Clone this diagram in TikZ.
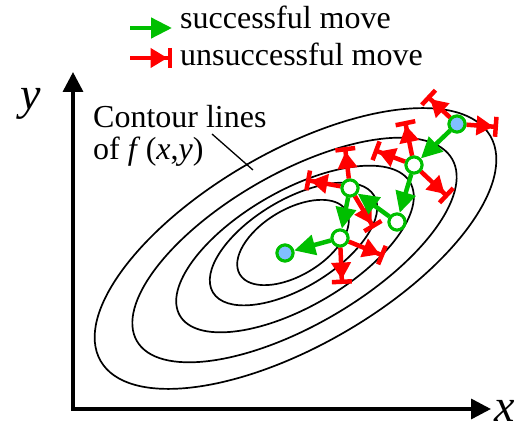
\documentclass[tikz,border=0pt]{standalone}
\usepackage{fontspec}
\setmainfont{Liberation Serif}
\usepackage{xcolor}
\definecolor{moveGood} {HTML}{00BF00}
\definecolor{moveBad}  {HTML}{FF0000}
\definecolor{pointBack}{HTML}{80BFFF}
\usetikzlibrary{arrows.meta}
\tikzset{
    vstep/.style={circle, draw=moveGood, line width=3pt, minimum size=16pt,
                  inner sep=0pt, fill=white},
    vend/.style={vstep, fill=pointBack},
    goodmove/.style={-{Triangle[length=21pt,width=20pt]}, line width=4.5pt, moveGood},
    badmove/.style={-{Triangle[length=17pt,width=19pt,sep=0pt]Bar[width=20pt,line width=4.5pt]},
                    line width=4.5pt, moveBad},
    axisline/.style={{Triangle[length=20pt,width=20pt]}-{Triangle[length=20pt,width=20pt]},
                     line width=3.5pt},
    contour/.style={line width=1.7pt},
    txt/.style={font=\fontsize{32}{32}\selectfont, inner sep=0pt},
    axistxt/.style={font=\fontsize{46}{46}\selectfont\itshape, inner sep=0pt},
}

\begin{document}
\begin{tikzpicture}[x=1pt, y=-1pt]
    \useasboundingbox (0,0) rectangle (520,430);
    % axes
    \coordinate (o) at (73,409);
    \coordinate (ytip) at (73,72);
    \coordinate (xtip) at (491,409);
    \draw[axisline] (ytip) -- (o) -- (xtip);
    \node[axistxt, anchor=base west] (ylab) at (20,110) {y};
    \node[axistxt, anchor=base west] (xlab) at (494,422) {x};
    % contour lines
    \draw[contour, rotate around={30:(295.5,248.5)}] (295.5,248.5) ellipse [x radius=225pt, y radius=97pt];
    \draw[contour, rotate around={30:(294.5,250)}] (294.5,250) ellipse [x radius=182pt, y radius=76pt];
    \draw[contour, rotate around={30:(295,249)}] (295,249) ellipse [x radius=133pt, y radius=58pt];
    \draw[contour, rotate around={31:(293.5,244)}] (293.5,244) ellipse [x radius=94pt, y radius=44pt];
    \draw[contour, rotate around={31:(293,242.5)}] (293,242.5) ellipse [x radius=62pt, y radius=33pt];
    \node[txt, anchor=base west] (cl1) at (93,128) {Contour lines};
    \node[txt, anchor=base west] (cl2) at (93,160) {of \textit{f}\,(\textit{x},\textit{y})};
    \coordinate (lead) at (212,134);
    \coordinate (touch) at (253,170);
    \draw[line width=1.3pt] (lead) -- (touch);
    % legend
    \coordinate (ga) at (130,28);
    \coordinate (gb) at (172,28);
    \coordinate (ra) at (130,58);
    \coordinate (rb) at (172,58);
    \draw[goodmove] (ga) -- (gb);
    \draw[badmove] (ra) -- (rb);
    \node[txt, anchor=base west] (lgood) at (180,29) {successful move};
    \node[txt, anchor=base west] (lbad) at (180,66) {unsuccessful move};
    % search points
    \node[vend]  (s0) at (457,124) {};
    \node[vstep] (n1) at (414,165) {};
    \node[vstep] (n2) at (397,222) {};
    \node[vstep] (n3) at (350,188) {};
    \node[vstep] (n4) at (340,238) {};
    \node[vend]  (fin) at (285,253) {};
    % rejected trial points
    \coordinate (b1) at (427,96);
    \coordinate (b2) at (498,127);
    \coordinate (b3) at (405,121);
    \coordinate (b4) at (374,150);
    \coordinate (b5) at (448,197);
    \coordinate (b6) at (345,147);
    \coordinate (b7) at (306,180);
    \coordinate (b8) at (374,228);
    \coordinate (b9) at (342,284);
    \coordinate (b10) at (384,256);
    \draw[badmove] (s0) -- (b1);
    \draw[badmove] (s0) -- (b2);
    \draw[badmove] (n1) -- (b3);
    \draw[badmove] (n1) -- (b4);
    \draw[badmove] (n1) -- (b5);
    \draw[badmove] (n3) -- (b6);
    \draw[badmove] (n3) -- (b7);
    \draw[badmove] (n3) -- (b8);
    \draw[badmove] (n4) -- (b9);
    \draw[badmove] (n4) -- (b10);
    % accepted moves
    \draw[goodmove] (s0) -- (n1);
    \draw[goodmove] (n1) -- (n2);
    \draw[goodmove] (n2) -- (n3);
    \draw[goodmove] (n3) -- (n4);
    \draw[goodmove] (n4) -- (fin);
    % redraw points on top
    \node[vend]  at (s0) {};
    \node[vstep] at (n1) {};
    \node[vstep] at (n2) {};
    \node[vstep] at (n3) {};
    \node[vstep] at (n4) {};
    \node[vend]  at (fin) {};
\end{tikzpicture}
\end{document}
